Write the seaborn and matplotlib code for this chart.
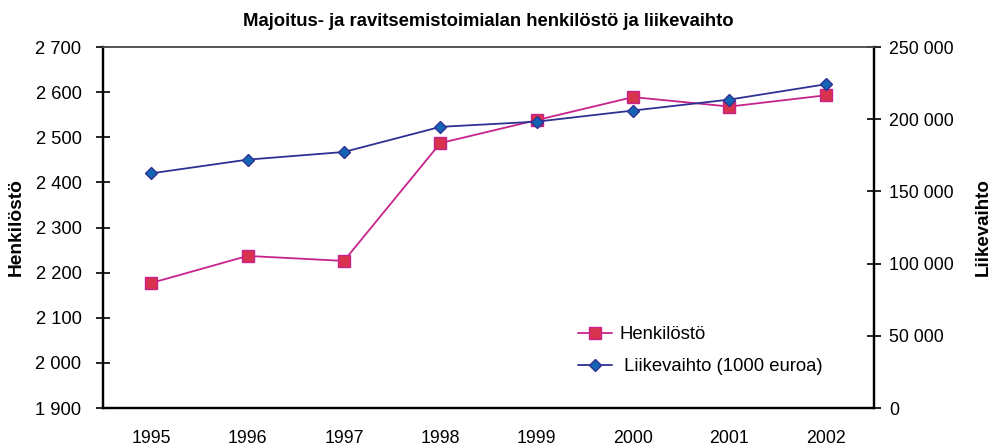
import matplotlib
matplotlib.use('Agg')
import matplotlib.pyplot as plt
import seaborn as sns
import pandas as pd
from matplotlib.ticker import FuncFormatter, FixedLocator
from matplotlib.lines import Line2D

# Data
years = [1995, 1996, 1997, 1998, 1999, 2000, 2001, 2002]
henkilosto = [2177, 2237, 2226, 2487, 2538, 2589, 2568, 2593]
liikevaihto = [162500, 172000, 177300, 194700, 198300, 206000, 213600, 224200]

df = pd.DataFrame({'vuosi': years, 'henkilosto': henkilosto, 'liikevaihto': liikevaihto})

sns.set_style('white')
plt.rcParams['font.family'] = ['Liberation Sans', 'DejaVu Sans']
plt.rcParams['text.color'] = 'black'
plt.rcParams['axes.labelcolor'] = 'black'
plt.rcParams['xtick.color'] = 'black'
plt.rcParams['ytick.color'] = 'black'

red_line = '#C8238C'
red_fill = '#D8324C'
blue_line = '#2E3192'
blue_fill = '#1565B5'

fig = plt.figure(figsize=(9.94, 4.46), dpi=100)
ax = fig.add_axes([0.1036, 0.0852, 0.7757, 0.8094])
ax2 = ax.twinx()

sns.lineplot(data=df, x='vuosi', y='henkilosto', ax=ax, color=red_line, linewidth=1.3,
             marker='s', markersize=8, markerfacecolor=red_fill, markeredgecolor=red_line,
             markeredgewidth=1.0)
sns.lineplot(data=df, x='vuosi', y='liikevaihto', ax=ax2, color=blue_line, linewidth=1.3,
             marker='D', markersize=6.5, markerfacecolor=blue_fill, markeredgecolor=blue_line,
             markeredgewidth=1.0)

ax.set_ylim(1900, 2700)
ax2.set_ylim(0, 250000)
ax.set_xlim(years[0] - 0.5, years[-1] + 0.5)

space_fmt = FuncFormatter(lambda v, p: f'{int(v):,}'.replace(',', ' '))
ax.yaxis.set_major_locator(FixedLocator(range(1900, 2701, 100)))
ax.yaxis.set_major_formatter(space_fmt)
ax2.yaxis.set_major_locator(FixedLocator(range(0, 250001, 50000)))
ax2.yaxis.set_major_formatter(space_fmt)

# boundary ticks without labels, year labels at centres
ax.xaxis.set_major_locator(FixedLocator([y - 0.5 for y in years] + [years[-1] + 0.5]))
ax.xaxis.set_major_formatter(FuncFormatter(lambda v, p: ''))
ax.xaxis.set_minor_locator(FixedLocator(years))
ax.xaxis.set_minor_formatter(FuncFormatter(lambda v, p: f'{int(round(v))}'))
ax.tick_params(axis='x', which='minor', length=0, pad=16, labelsize=12.8)
ax.tick_params(axis='x', which='major', direction='inout', length=10, width=1.2)
ax.tick_params(axis='y', direction='inout', length=10, width=1.2, labelsize=13.2, pad=10.5)
ax2.tick_params(axis='y', direction='inout', length=10, width=1.2, labelsize=12.8, pad=6)

for a in (ax, ax2):
    for side in ('left', 'right', 'bottom'):
        a.spines[side].set_color('black')
        a.spines[side].set_linewidth(1.6)
    a.spines['top'].set_color('#555555')
    a.spines['top'].set_linewidth(1.2)

ax.set_xlabel('')
ax.set_ylabel('Henkilöstö', fontsize=13.8, fontweight='bold', labelpad=8)
ax2.set_ylabel('Liikevaihto', fontsize=13.5, fontweight='bold', labelpad=15)
ax.set_title('Majoitus- ja ravitsemistoimialan henkilöstö ja liikevaihto',
             fontsize=13.3, fontweight='bold', pad=15)

handles = [
    Line2D([], [], color=red_line, linewidth=1.3, marker='s', markersize=8,
           markerfacecolor=red_fill, markeredgecolor=red_line),
    Line2D([], [], color=blue_line, linewidth=1.3, marker='D', markersize=6.5,
           markerfacecolor=blue_fill, markeredgecolor=blue_line),
]
ax2.legend(handles, ['Henkilöstö', ' Liikevaihto (1000 euroa)'], loc='lower left',
           bbox_to_anchor=(0.595, 0.045), frameon=False, fontsize=13.3,
           handlelength=1.8, handletextpad=0.4, labelspacing=0.8)

fig.savefig('out.png', dpi=100)
